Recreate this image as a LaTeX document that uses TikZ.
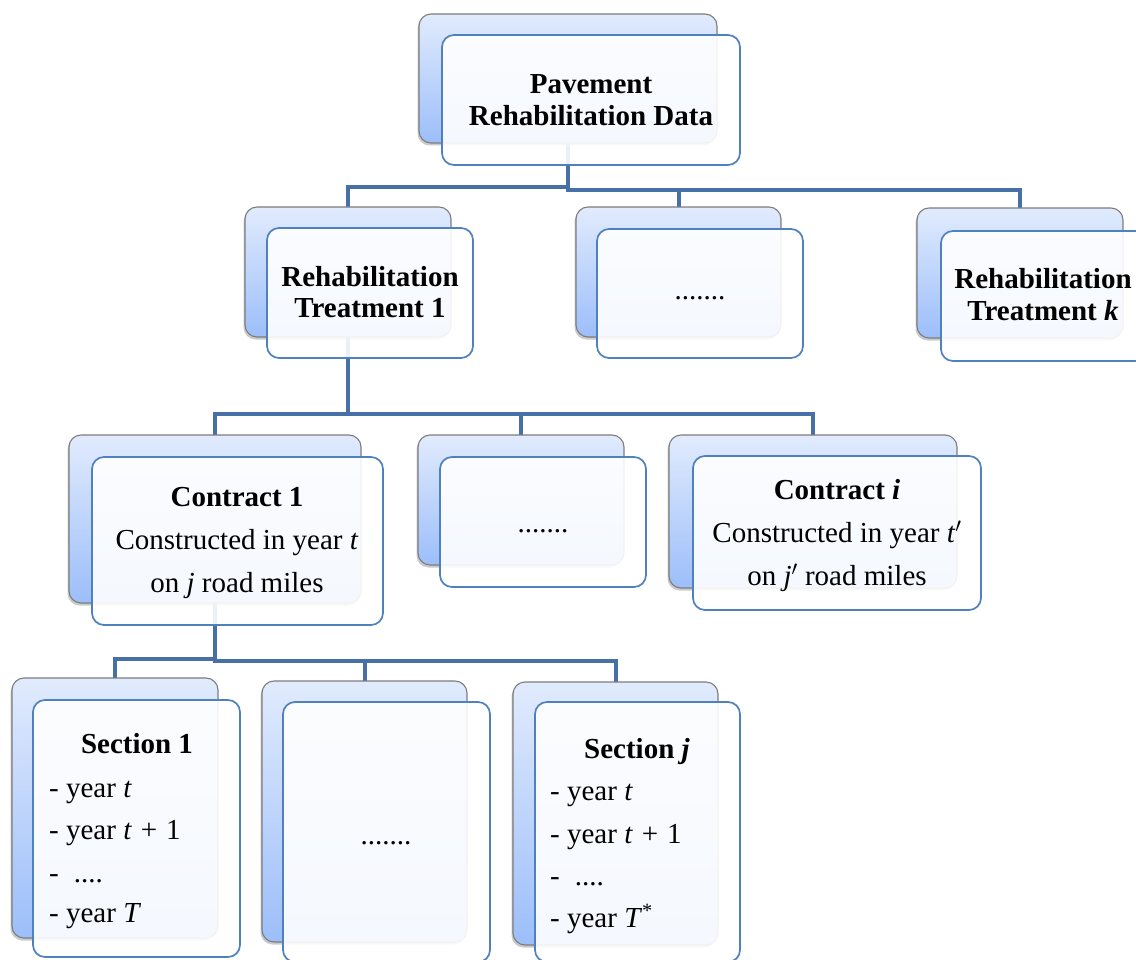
\documentclass[tikz,border=0pt]{standalone}
\usepackage{fontspec}
\setmainfont{Liberation Serif}
\usetikzlibrary{shadows,fit}

\definecolor{linkblue}{RGB}{71,112,166}
\definecolor{backtop}{RGB}{225,235,253}
\definecolor{backbot}{RGB}{156,190,250}
\definecolor{backedge}{RGB}{125,125,125}
\definecolor{frontedge}{RGB}{79,129,189}

\pgfdeclarelayer{links}
\pgfsetlayers{links,main}

\tikzset{
  backbox/.style={rectangle, rounded corners=12pt, draw=backedge, line width=1.1pt,
    top color=backtop, bottom color=backbot, inner sep=0pt,
    drop shadow={shadow xshift=-1.5pt, shadow yshift=-2.5pt, opacity=0.35, fill=black!60}},
  frontbox/.style={rectangle, rounded corners=12pt, draw=frontedge, line width=1.7pt,
    fill=white, fill opacity=0.9, inner sep=0pt},
  link/.style={draw=linkblue, line width=4pt},
  txt/.style={font=\fontsize{29}{31}\selectfont, inner sep=0pt, anchor=base},
  txtb/.style={txt, font=\fontsize{29}{31}\selectfont\bfseries},
  txtl/.style={txt, anchor=base west},
}

% back card and front card of one entry
\newcommand\boxpair[9]{%
  \node[backbox, fit={(#2,#3) (#4,#5)}] (#1-b) {};
  \node[frontbox, fit={(#6,#7) (#8,#9)}] (#1-f) {};
}
\newcommand\plusone{\hspace{9pt}+\hspace{9pt}1}

\begin{document}
\begin{tikzpicture}[x=1pt,y=-1pt]
\useasboundingbox (0,0) rectangle (1136,960);

% cards
\boxpair{top}{419}{14}{717}{143}{442}{35}{740}{165}
\boxpair{t1}{245}{207}{451}{337}{267}{228}{473}{358}
\boxpair{tm}{576}{207}{781}{337}{597}{229}{803}{358}
\boxpair{tk}{917}{208}{1123}{338}{941}{231}{1147}{361}
\boxpair{c1}{69}{435}{361}{603}{92}{457}{383}{625}
\boxpair{cm}{418}{435}{624}{565}{440}{457}{646}{587}
\boxpair{ci}{669}{435}{957}{588}{693}{456}{981}{610}
\boxpair{s1}{12}{678}{218}{938}{33}{700}{240}{957}
\boxpair{sm}{262}{681}{467}{942}{283}{702}{490}{962}
\boxpair{sj}{513}{682}{718}{945}{535}{702}{740}{962}

% elbow connectors, drawn beneath the cards
\coordinate (j1l) at (568,187);
\coordinate (j1r) at (568,190);
\coordinate (j2) at (348,414);
\coordinate (j3l) at (215,659);
\coordinate (j3r) at (215,661);
\begin{pgfonlayer}{links}
  \draw[link] (top-b.center) -- (top-b.center |- j1l) -| (t1-b.center);
  \draw[link] (top-b.center) -- (top-b.center |- j1r) -| (tm-b.center);
  \draw[link] (top-b.center) -- (top-b.center |- j1r) -| (tk-b.center);
  \draw[link] (t1-b.center) -- (t1-b.center |- j2) -| (c1-b.center);
  \draw[link] (t1-b.center) -- (t1-b.center |- j2) -| (cm-b.center);
  \draw[link] (t1-b.center) -- (t1-b.center |- j2) -| (ci-b.center);
  \draw[link] (c1-b.center) -- (c1-b.center |- j3l) -| (s1-b.center);
  \draw[link] (c1-b.center) -- (c1-b.center |- j3r) -| (sm-b.center);
  \draw[link] (c1-b.center) -- (c1-b.center |- j3r) -| (sj-b.center);
\end{pgfonlayer}

% labels
\node[txtb] (top-t1) at (591,94) {Pavement};
\node[txtb] (top-t2) at (591,126) {Rehabilitation Data};

\node[txtb] (t1-t1) at (370,287) {Rehabilitation};
\node[txtb] (t1-t2) at (370,318) {Treatment 1};
\node[txt] (tm-t) at (700,300) {.......};
\node[txtb] (tk-t1) at (1043,289) {Rehabilitation};
\node[txtb] (tk-t2) at (1043,320) {Treatment \textit{k}};

\node[txtb] (c1-t1) at (237,506) {Contract 1};
\node[txt] (c1-t2) at (237,549) {Constructed in year \textit{t}};
\node[txt] (c1-t3) at (237,592) {on \textit{j} road miles};
\node[txt] (cm-t) at (543,532) {.......};
\node[txtb] (ci-t1) at (837,499) {Contract \textit{i}};
\node[txt] (ci-t2) at (837,542) {Constructed in year \textit{t}$'$};
\node[txt] (ci-t3) at (837,585) {on \textit{j}$'$ road miles};

\node[txtb] (s1-t0) at (137,753) {Section 1};
\node[txtl] (s1-t1) at (49,797) {- year \textit{t}};
\node[txtl] (s1-t2) at (49,839) {- year \textit{t}\plusone};
\node[txtl] (s1-t3) at (49,882) {-\hspace{15pt}....};
\node[txtl] (s1-t4) at (49,922) {- year \textit{T}};
\node[txt] (sm-t) at (386,844) {.......};
\node[txtb] (sj-t0) at (637,758) {Section \textit{j}};
\node[txtl] (sj-t1) at (550,800) {- year \textit{t}};
\node[txtl] (sj-t2) at (550,843) {- year \textit{t}\plusone};
\node[txtl] (sj-t3) at (550,885) {-\hspace{15pt}....};
\node[txtl] (sj-t4) at (550,927) {- year \textit{T}\textsuperscript{*}};
\end{tikzpicture}
\end{document}
